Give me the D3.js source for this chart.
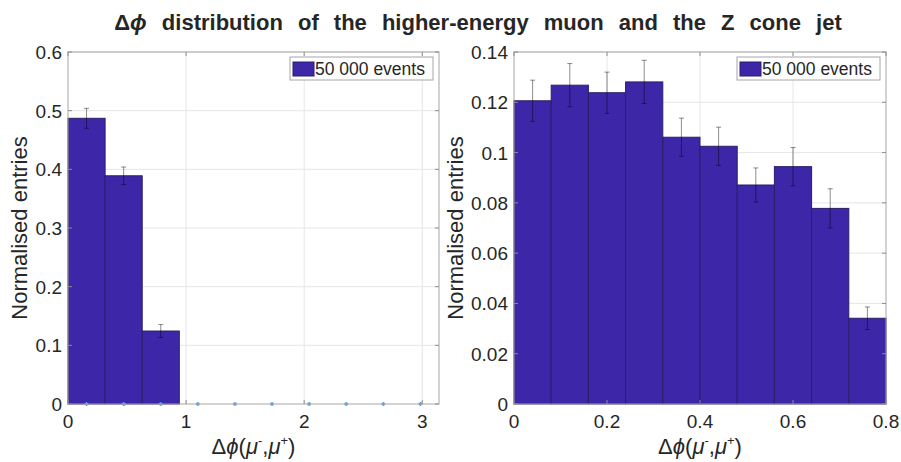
<!DOCTYPE html>
<html>
<head>
<meta charset="utf-8">
<script src="https://cdn.jsdelivr.net/npm/d3@7"></script>
<style>
  body{margin:0;background:#fff;}
  svg{font-family:"Liberation Sans",Arial,sans-serif;}
  .tick_lbl{font-size:19px;fill:#262626;}
  .ax_lbl{font-size:22px;fill:#262626;}
  .grid_line{stroke:#e6e6e6;stroke-width:1;}
  .box_line{stroke:#a6a6a6;stroke-width:1;fill:none;}
  .tick_mark{stroke:#8c8c8c;stroke-width:1;}
  .bar{fill:#3d27a8;stroke:#2a1f66;stroke-width:1;}
  .err{stroke:#000;stroke-opacity:0.45;stroke-width:1;}
</style>
</head>
<body>
<svg></svg>
<script>
// left panel : full range 0..pi, 10 bins
const left_edges = [0,0.1,0.2,0.3,0.4,0.5,0.6,0.7,0.8,0.9,1.0].map(e=>e*Math.PI);
const left_values = [0.487,0.389,0.1244,0,0,0,0,0,0,0];
const left_errors = [0.017,0.015,0.011,0,0,0,0,0,0,0];
const left_xticks = [0,1,2,3];
const left_yticks = [0,0.1,0.2,0.3,0.4,0.5,0.6];

// right panel : zoom 0..0.8, 10 bins
const right_edges = [0,0.08,0.16,0.24,0.32,0.40,0.48,0.56,0.64,0.72,0.80];
const right_values = [0.1206,0.1268,0.1238,0.1281,0.1061,0.1025,0.0871,0.0944,0.0778,0.0341];
const right_errors = [0.0082,0.0086,0.0082,0.0086,0.0076,0.0076,0.0068,0.0076,0.0078,0.0045];
const right_xticks = [0,0.2,0.4,0.6,0.8];
const right_yticks = [0,0.02,0.04,0.06,0.08,0.1,0.12,0.14];

const legend_text = "50 000 events";

const W = 901, H = 462;
const svg = d3.select("svg").attr("width",W).attr("height",H);

// title
const title = svg.append("text").attr("x",478).attr("y",30).attr("text-anchor","middle")
  .style("font-size","22px").style("font-weight","bold").style("fill","#262626")
  .style("word-spacing","9px");
title.append("tspan").text("Δ");
title.append("tspan").style("font-style","italic").text("ϕ");
title.append("tspan").text(" distribution of the higher-energy muon and the Z cone jet");

function fmt(v){ return String(+v.toFixed(4)); }

function x_label(g,x,y){
  let t = g.append("text").attr("class","ax_lbl").attr("x",x).attr("y",y).attr("text-anchor","middle");
  t.append("tspan").text("Δ");
  t.append("tspan").style("font-style","italic").text("ϕ");
  t.append("tspan").text("(");
  t.append("tspan").style("font-style","italic").text("μ");
  t.append("tspan").attr("dy",-9).style("font-size","13px").text("-");
  t.append("tspan").attr("dy",9).text(",");
  t.append("tspan").style("font-style","italic").text("μ");
  t.append("tspan").attr("dy",-9).style("font-size","13px").text("+");
  t.append("tspan").attr("dy",9).text(")");
}

// one histogram panel
function draw_panel(p){
  const g = svg.append("g");
  const xs = d3.scaleLinear().domain(p.xdom).range([p.x0,p.x1]);
  const ys = d3.scaleLinear().domain(p.ydom).range([p.y1,p.y0]);

  // grid
  g.selectAll(".gx").data(p.xticks.filter(t=>t>p.xdom[0] && t<p.xdom[1])).enter()
    .append("line").attr("class","grid_line")
    .attr("x1",d=>xs(d)).attr("x2",d=>xs(d)).attr("y1",p.y0).attr("y2",p.y1);
  g.selectAll(".gy").data(p.yticks.filter(t=>t>p.ydom[0])).enter()
    .append("line").attr("class","grid_line")
    .attr("y1",d=>ys(d)).attr("y2",d=>ys(d)).attr("x1",p.x0).attr("x2",p.x1);

  // bars
  const bins = p.values.map((v,i)=>({a:p.edges[i],b:p.edges[i+1],v:v,e:p.errors[i]}));
  g.selectAll(".bar").data(bins.filter(d=>d.v>0)).enter()
    .append("rect").attr("class","bar")
    .attr("x",d=>xs(d.a)).attr("width",d=>xs(d.b)-xs(d.a))
    .attr("y",d=>ys(d.v)).attr("height",d=>ys(0)-ys(d.v));

  // error bars
  const eb = g.selectAll(".eb").data(bins.filter(d=>d.e>0)).enter().append("g");
  eb.append("line").attr("class","err")
    .attr("x1",d=>xs((d.a+d.b)/2)).attr("x2",d=>xs((d.a+d.b)/2))
    .attr("y1",d=>ys(d.v-d.e)).attr("y2",d=>ys(d.v+d.e));
  [-1,1].forEach(s=>{
    eb.append("line").attr("class","err")
      .attr("x1",d=>xs((d.a+d.b)/2)-2.5).attr("x2",d=>xs((d.a+d.b)/2)+2.5)
      .attr("y1",d=>ys(d.v+s*d.e)).attr("y2",d=>ys(d.v+s*d.e));
  });

  // zero markers (left panel)
  if(p.markers){
    g.selectAll(".mk").data(bins).enter().append("path")
      .attr("d",d3.symbol(d3.symbolAsterisk,12))
      .attr("transform",d=>"translate("+xs((d.a+d.b)/2)+","+ys(0)+")")
      .attr("stroke","#4d9be0").attr("stroke-width",1.2).attr("fill","none");
  }

  // box
  g.append("rect").attr("class","box_line")
    .attr("x",p.x0).attr("y",p.y0).attr("width",p.x1-p.x0).attr("height",p.y1-p.y0);

  // ticks
  p.xticks.forEach(t=>{
    g.append("line").attr("class","tick_mark").attr("x1",xs(t)).attr("x2",xs(t)).attr("y1",p.y1).attr("y2",p.y1-4);
    g.append("line").attr("class","tick_mark").attr("x1",xs(t)).attr("x2",xs(t)).attr("y1",p.y0).attr("y2",p.y0+4);
    g.append("text").attr("class","tick_lbl").attr("x",xs(t)).attr("y",p.y1+24)
      .attr("text-anchor","middle").text(fmt(t));
  });
  p.yticks.forEach(t=>{
    g.append("line").attr("class","tick_mark").attr("y1",ys(t)).attr("y2",ys(t)).attr("x1",p.x0).attr("x2",p.x0+4);
    g.append("line").attr("class","tick_mark").attr("y1",ys(t)).attr("y2",ys(t)).attr("x1",p.x1).attr("x2",p.x1-4);
    g.append("text").attr("class","tick_lbl").attr("x",p.x0-6).attr("y",ys(t)+7)
      .attr("text-anchor","end").text(fmt(t));
  });

  // axis labels
  g.append("text").attr("class","ax_lbl").attr("text-anchor","middle")
    .attr("transform","translate("+p.ylab_x+","+((p.y0+p.y1)/2)+") rotate(-90)")
    .text("Normalised entries");
  x_label(g,(p.x0+p.x1)/2,454);

  // legend
  const lg = g.append("g").attr("transform","translate("+p.leg_x+","+(p.y0+5)+")");
  lg.append("rect").attr("width",p.leg_w).attr("height",23).attr("fill","#fff")
    .attr("stroke","#a6a6a6").attr("stroke-width",1);
  lg.append("rect").attr("x",3).attr("y",5).attr("width",21).attr("height",14)
    .attr("fill","#3d27a8").attr("stroke","#2a1f66");
  lg.append("text").attr("x",25).attr("y",18).style("font-size","17.5px").style("fill","#262626")
    .text(legend_text);
}

draw_panel({x0:68,x1:439,y0:52,y1:404,xdom:[0,Math.PI],ydom:[0,0.6],
  edges:left_edges,values:left_values,errors:left_errors,
  xticks:left_xticks,yticks:left_yticks,markers:true,ylab_x:27,leg_x:290,leg_w:143});
draw_panel({x0:514,x1:886,y0:52,y1:404,xdom:[0,0.8],ydom:[0,0.14],
  edges:right_edges,values:right_values,errors:right_errors,
  xticks:right_xticks,yticks:right_yticks,markers:false,ylab_x:463,leg_x:737,leg_w:143});
</script>
</body>
</html>
